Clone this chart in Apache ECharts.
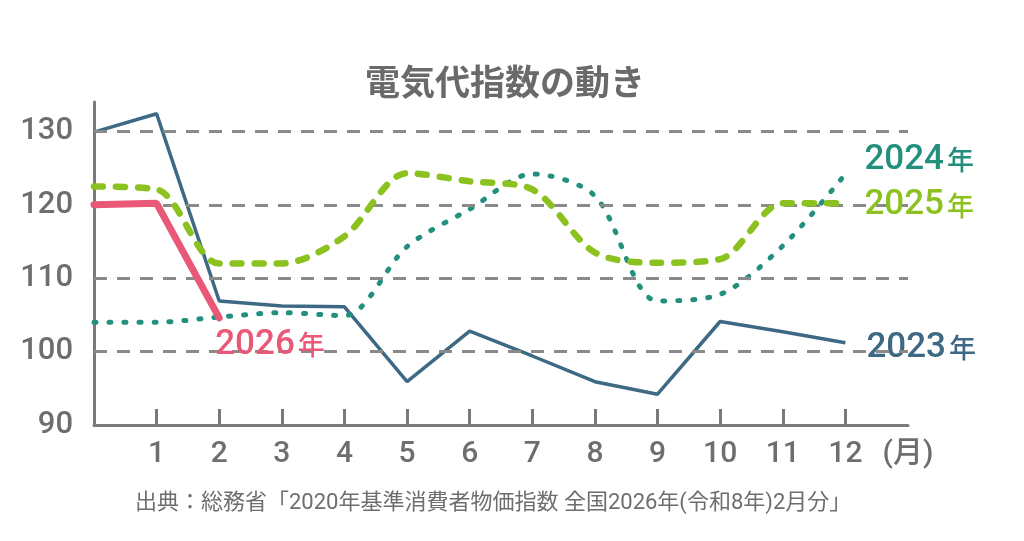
<!DOCTYPE html>
<html>
<head>
<meta charset="utf-8">
<title>電気代指数の動き</title>
<script src="https://cdn.jsdelivr.net/npm/echarts@6/dist/echarts.min.js"></script>
<style>
  html, body { margin: 0; padding: 0; background: #fff; }
  #chart { width: 1024px; height: 541px; }
</style>
</head>
<body>
<div id="chart"></div>
<script>
// 0 is the axis origin, 13 carries the unit label
const months = ['', '1', '2', '3', '4', '5', '6', '7', '8', '9', '10', '11', '12', '(月)']

const y2023 = [129.9, 132.4, 106.9, 106.2, 106.1, 95.9, 102.8, 99.4, 95.9, 94.2, 104.1, 102.7, 101.2]
const y2024 = [104.0, 104.0, 104.7, 105.3, 104.9, 114.3, 119.4, 124.2, 121.2, 106.9, 107.8, 114.4, 124.2]
const y2025 = [122.5, 122.1, 112.0, 112.0, 115.7, 124.3, 123.2, 122.1, 113.5, 112.1, 112.6, 120.2, 120.2]
const y2026 = [120.0, 120.2, 104.6]

const gridValues = [100, 110, 120, 130]

const FONT = "Roboto, 'Noto Sans CJK JP', sans-serif"
const CJK = "'Noto Sans CJK JP', sans-serif"
const GRAY = '#6e6e6e'

const C2023 = '#3d6985'
const C2024 = '#23907e'
const C2025 = '#8cc21f'
const C2026 = '#e95877'

function yearLabel (year, color, offset) {
  return {
    show: true,
    offset: offset,
    formatter: '{n|' + year + '}{k|年}',
    rich: {
      n: { fontFamily: FONT, fontSize: 35, fontWeight: 500, color: color, padding: [0, 3, 0, 0] },
      k: { fontFamily: CJK, fontSize: 27, fontWeight: 500, color: color }
    }
  }
}

const chart = echarts.init(document.getElementById('chart'))

chart.setOption({
  animation: false,
  title: [{
    text: '電気代指数の動き',
    left: 360,
    top: 59,
    textStyle: { fontFamily: CJK, fontSize: 35, fontWeight: 'bold', color: '#6a6a6a' }
  }, {
    text: '出典：総務省「2020年基準消費者物価指数 全国2026年(令和8年)2月分」',
    left: 130,
    top: 487,
    textStyle: { fontFamily: FONT, fontSize: 22, fontWeight: 'normal', color: GRAY }
  }],
  grid: { left: 94, right: 116, top: 102, bottom: 116 },
  xAxis: {
    type: 'category',
    data: months,
    boundaryGap: false,
    axisLine: { lineStyle: { color: '#7a7a7a', width: 3 } },
    axisTick: {
      inside: true,
      length: 16,
      interval: (i) => i > 0 && i < 13,
      lineStyle: { color: '#7a7a7a', width: 3 }
    },
    axisLabel: {
      interval: 0,
      margin: 14,
      fontFamily: FONT,
      fontSize: 30,
      fontWeight: 500,
      color: GRAY
    },
    splitLine: { show: false }
  },
  yAxis: {
    type: 'value',
    min: 90,
    max: 134,
    interval: 10,
    axisLine: { show: true, lineStyle: { color: '#7a7a7a', width: 3 } },
    axisTick: { show: false },
    axisLabel: {
      margin: 21,
      fontFamily: FONT,
      fontSize: 31,
      fontWeight: 500,
      color: GRAY,
      formatter: (v) => (v % 10 === 0 ? String(v) : '')
    },
    splitLine: { show: false }
  },
  series: [{
    name: '2023年',
    type: 'line',
    data: y2023,
    symbol: 'none',
    lineStyle: { color: C2023, width: 3.5 },
    endLabel: yearLabel('2023', C2023, [13, 5]),
    markLine: {
      silent: true,
      symbol: 'none',
      label: { show: false },
      lineStyle: { color: '#8a8a8a', width: 3, type: [13, 10] },
      data: gridValues.map(v => ({ yAxis: v }))
    },
    z: 3
  }, {
    name: '2024年',
    type: 'line',
    data: y2024,
    symbol: 'none',
    smooth: 0.3,
    lineStyle: { color: C2024, width: 5, type: [2, 13], cap: 'round' },
    endLabel: yearLabel('2024', C2024, [11, -14]),
    z: 4
  }, {
    name: '2025年',
    type: 'line',
    data: y2025,
    symbol: 'none',
    smooth: 0.3,
    lineStyle: { color: C2025, width: 6.5, type: [9, 13], cap: 'round' },
    endLabel: yearLabel('2025', C2025, [11, 2]),
    z: 5
  }, {
    name: '2026年',
    type: 'line',
    data: y2026,
    symbol: 'none',
    lineStyle: { color: C2026, width: 7, cap: 'round' },
    endLabel: yearLabel('2026', C2026, [-12, 27]),
    z: 6
  }]
})
</script>
</body>
</html>
